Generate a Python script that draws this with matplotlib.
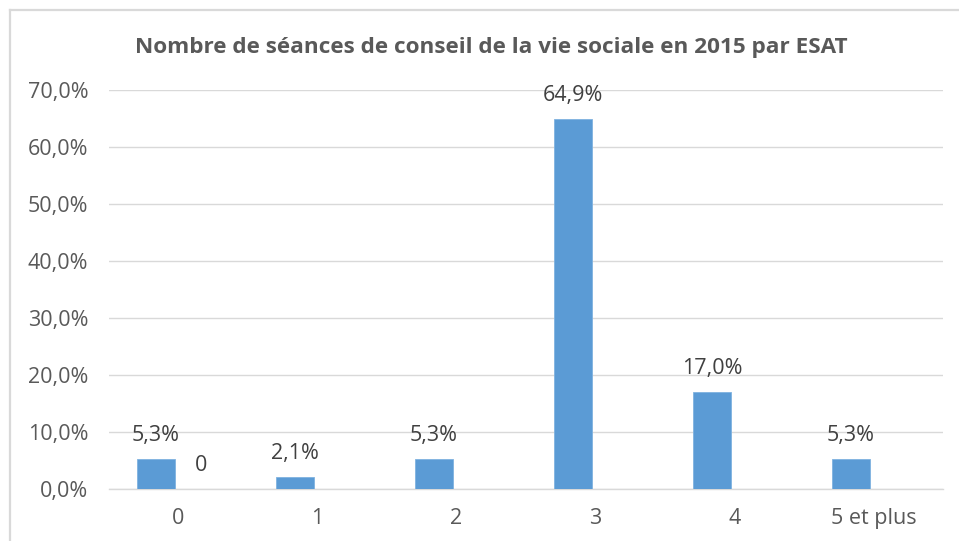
import matplotlib
matplotlib.use("Agg")
import matplotlib.pyplot as plt
from matplotlib.lines import Line2D
import numpy as np

categories = ["0", "1", "2", "3", "4", "5 et plus"]
series1 = [5.3, 2.1, 5.3, 64.9, 17.0, 5.3]
series2 = [0, None, None, None, None, None]
yticks = [0, 10, 20, 30, 40, 50, 60, 70]
title = "Nombre de séances de conseil de la vie sociale en 2015 par ESAT"

W, H = 959, 541
fig = plt.figure(figsize=(W / 100, H / 100), dpi=100)
fig.patch.set_facecolor("white")

ax = fig.add_axes([109 / W, 1 - 489 / H, (943 - 109) / W, (489 - 90) / H])
x = np.arange(len(categories))
off = 0.162
bw = 0.273
blue = "#5B9BD5"
grey = "#595959"
fs = 15.5

ax.bar(x - off, series1, width=bw, color=blue, edgecolor="#7FB2E0", linewidth=0.6, zorder=3)
for xi, v in zip(x, series1):
    ax.annotate(f"{v:.1f}%".replace(".", ","), (xi - off, v), xytext=(0, 17),
                textcoords="offset points", ha="center", va="center",
                fontsize=fs, color="#404040", family="Open Sans")
for xi, v in zip(x, series2):
    if v is None:
        continue
    ax.bar(xi + off, v, width=bw, color="#ED7D31", zorder=3)
    ax.annotate(f"{v:g}", (xi + off, v), xytext=(0, 17),
                textcoords="offset points", ha="center", va="center",
                fontsize=fs, color="#404040", family="Open Sans")

ax.set_xlim(-0.5, len(categories) - 0.5)
ax.set_ylim(0, 70)
ax.set_yticks(yticks)
ax.set_yticklabels([f"{t:.1f}%".replace(".", ",") for t in yticks])
ax.set_xticks(x)
ax.set_xticklabels(categories)
ax.tick_params(axis="both", length=0, labelsize=fs, labelcolor=grey)
ax.tick_params(axis="y", pad=15)
ax.tick_params(axis="x", pad=14)
for lab in ax.get_xticklabels() + ax.get_yticklabels():
    lab.set_family("Open Sans")
ax.grid(axis="y", color="#D9D9D9", linewidth=1.0, zorder=0)
ax.set_axisbelow(True)
for s in ["top", "right", "left"]:
    ax.spines[s].set_visible(False)
ax.spines["bottom"].set_color("#D9D9D9")
ax.spines["bottom"].set_linewidth(1.0)

fig.text(491 / W, 1 - 47 / H, title, ha="center", va="center", fontsize=16.2,
         fontweight="bold", color=grey, family="Open Sans")

# chart border
fig.add_artist(Line2D([10 / W, 1], [1 - 10 / H, 1 - 10 / H], color="#D9D9D9", linewidth=1.6, transform=fig.transFigure))
fig.add_artist(Line2D([10 / W, 10 / W], [0, 1 - 10 / H], color="#D9D9D9", linewidth=1.6, transform=fig.transFigure))

fig.savefig("out.png", dpi=100)
